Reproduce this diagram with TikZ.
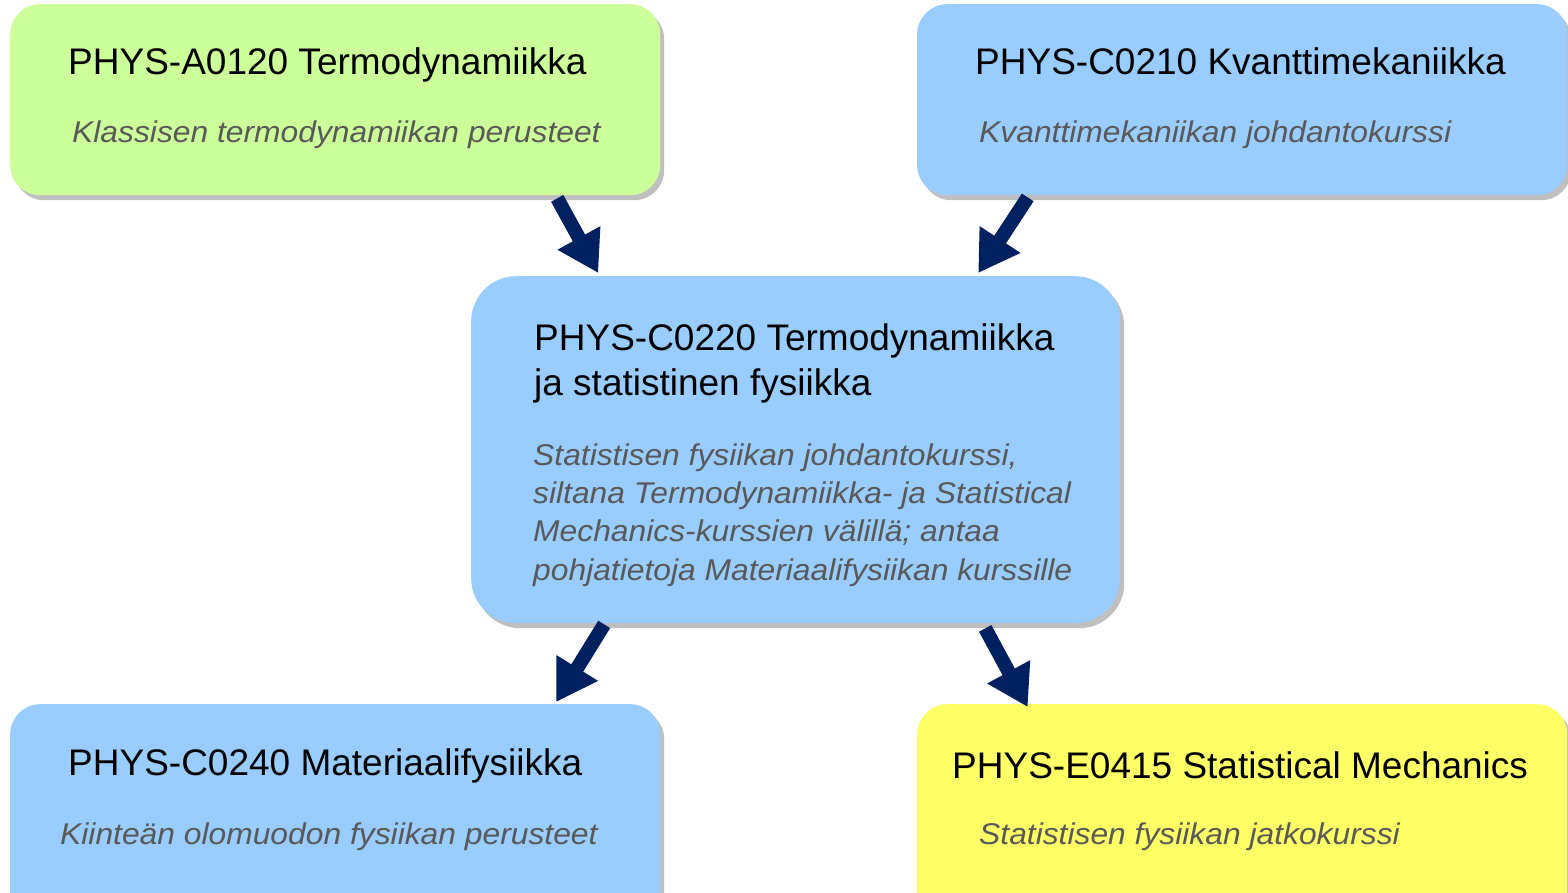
\documentclass[tikz,border=0pt]{standalone}
\usepackage{fontspec}
\setmainfont{Liberation Sans}
\newfontfamily\subfont[FakeStretch=1.06]{Liberation Sans}
\usetikzlibrary{arrows.meta,shadows,calc}
\definecolor{boxgreen}{HTML}{CCFF99}
\definecolor{boxblue}{HTML}{99CCFF}
\definecolor{boxyellow}{HTML}{FFFF66}
\definecolor{subgray}{HTML}{595959}
\definecolor{arrowblue}{HTML}{002060}
\begin{document}
\begin{tikzpicture}[x=1pt,y=-1pt,
  card/.style={rounded corners=30pt, minimum width=650pt, anchor=north west, inner sep=0pt,
    drop shadow={shadow xshift=4pt, shadow yshift=-5pt, opacity=0.25, fill=black}},
  ttl/.style={anchor=base west, inner sep=0pt, font=\fontsize{37}{43}\selectfont, text=black},
  sub/.style={anchor=base west, inner sep=0pt, font=\subfont\fontsize{30}{38}\selectfont\itshape, text=subgray},
  flow/.style={draw=arrowblue, line width=14pt, -{Triangle[length=40pt,width=46pt]}}
]
\useasboundingbox (0,0) rectangle (1568,893);
\clip (0,0) rectangle (1568,893);
\fill[white] (0,0) rectangle (1568,893);

% boxes
\node[card, fill=boxgreen, minimum height=191pt] (A) at (10,4) {};
\node[card, fill=boxblue, minimum height=191pt] (B) at (917,4) {};
\node[card, fill=boxblue, minimum height=347pt, minimum width=649pt, rounded corners=45pt] (C) at (471,276) {};
\node[card, fill=boxblue, minimum height=230pt] (D) at (10,704) {};
\node[card, fill=boxyellow, minimum height=230pt] (E) at (917,704) {};

% texts
\node[ttl] (At) at (68,75) {PHYS-A0120 Termodynamiikka};
\node[sub] (As) at (72,143) {Klassisen termodynamiikan perusteet};
\node[ttl] (Bt) at (975,75) {PHYS-C0210 Kvanttimekaniikka};
\node[sub] (Bs) at (979,143) {Kvanttimekaniikan johdantokurssi};
\node[ttl] (Ct1) at (534,350) {PHYS-C0220 Termodynamiikka};
\node[ttl] (Ct2) at (534,395) {ja statistinen fysiikka};
\node[sub] (Cs1) at (533,465) {Statistisen fysiikan johdantokurssi,};
\node[sub] (Cs2) at (533,503) {siltana Termodynamiikka- ja Statistical};
\node[sub] (Cs3) at (533,541) {Mechanics-kurssien välillä; antaa};
\node[sub] (Cs4) at (533,580) {pohjatietoja Materiaalifysiikan kurssille};
\node[ttl] (Dt) at (68,775) {PHYS-C0240 Materiaalifysiikka};
\node[sub] (Ds) at (60,844) {Kiinteän olomuodon fysiikan perusteet};
\node[ttl] (Et) at (952,778) {PHYS-E0415 Statistical Mechanics};
\node[sub] (Es) at (979,844) {Statistisen fysiikan jatkokurssi};

% arrows
\draw[flow] ([xshift=222pt,yshift=-3pt]A.south) -- ([xshift=-197.5pt,yshift=3pt]C.north);
\draw[flow] ([xshift=-214.5pt,yshift=-2pt]B.south) -- ([xshift=182.5pt,yshift=3pt]C.north);
\draw[flow] ([xshift=-191.5pt,yshift=-1pt]C.south) -- ([xshift=221pt,yshift=2pt]D.north);
\draw[flow] ([xshift=189.5pt,yshift=-5pt]C.south) -- ([xshift=-214.5pt,yshift=-3pt]E.north);
\end{tikzpicture}
\end{document}
